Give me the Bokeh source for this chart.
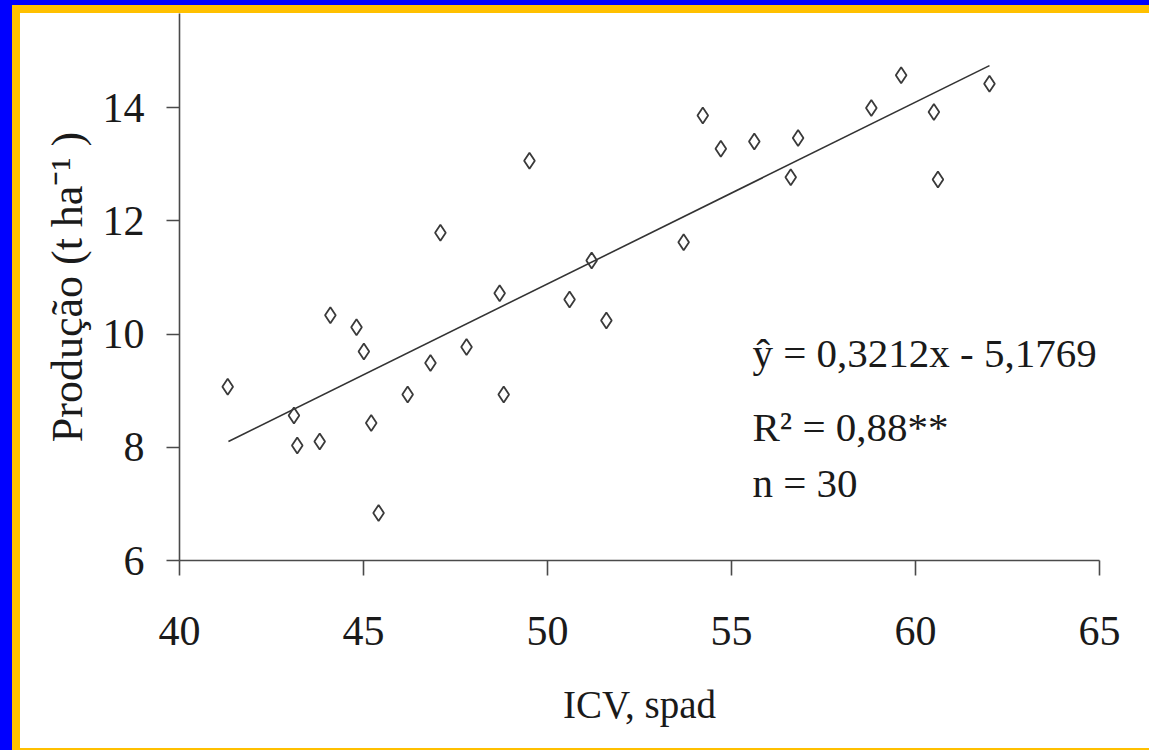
from bokeh.plotting import figure
from bokeh.models import FixedTicker, Label
from bokeh.embed import file_html
from bokeh.resources import INLINE

# ---- data ----
icv = [41.31, 43.11, 43.20, 43.81, 44.10, 44.81, 45.01, 45.21, 45.41, 46.20,
       46.82, 47.09, 47.80, 48.70, 48.81, 49.51, 50.60, 51.20, 51.60, 53.70,
       54.22, 54.71, 55.62, 56.61, 56.81, 58.80, 59.61, 60.50, 60.61, 62.01]
producao = [9.07, 8.56, 8.03, 8.10, 10.33, 10.12, 9.69, 8.43, 6.84, 8.93,
            9.49, 11.79, 9.77, 10.72, 8.93, 13.06, 10.61, 11.30, 10.24, 11.62,
            13.86, 13.27, 13.40, 12.77, 13.46, 13.99, 14.57, 13.92, 12.73, 14.42]
fit_x = [41.33, 62.01]
fit_y = [8.10, 14.74]
x_ticks = [40, 45, 50, 55, 60, 65]
y_ticks = [6, 8, 10, 12, 14]
x_title = "ICV, spad"
y_title = "Produção (t ha\u207b\u00b9 )"
eq_lines = ["\u0177 = 0,3212x - 5,1769", "R\u00b2 = 0,88**", "n = 30"]

FONT = "Liberation Serif"
TXT = "#1a1a1a"
LN = "#4a4a4a"

W, H = 1149, 750
FL, FR, FT, FB = 179, 1099, 13, 560
X0, X1 = 40, 65
Y0 = 6
PY = 56.625
Y1 = Y0 + (FB - FT) / PY


def sx(ix):
    return ix - FL


def sy(iy):
    return FB - iy


p = figure(width=W, height=H, x_range=(X0, X1), y_range=(Y0, Y1),
           output_backend="svg", toolbar_location=None,
           min_border_left=FL, min_border_right=W - FR,
           min_border_top=FT, min_border_bottom=H - FB)
p.outline_line_color = None
p.background_fill_color = "white"
p.border_fill_color = None
p.styles = {
    "background": (
        "linear-gradient(#FFFFFF, #FFFFFF) right 0px top 13px / 40px calc(100% - 16px) no-repeat, "
        "linear-gradient(#0000FF, #0000FF) 0px 0px / 12px 100% no-repeat, "
        "linear-gradient(#0000FF, #0000FF) 0px 0px / 100% 5px no-repeat, "
        "linear-gradient(#FFC000, #FFC000) 12px 5px / 8px 100% no-repeat, "
        "linear-gradient(#FFC000, #FFC000) 12px 5px / 100% 8px no-repeat, "
        "linear-gradient(#FFC000, #FFC000) 0px 100% / 100% 2.5px no-repeat, "
        "#FFFFFF"
    )
}
p.xgrid.visible = False
p.ygrid.visible = False

for ax in (p.xaxis, p.yaxis):
    ax.axis_line_color = LN
    ax.axis_line_width = 1.6
    ax.major_tick_line_color = LN
    ax.major_tick_line_width = 1.6
    ax.major_tick_in = 0
    ax.minor_tick_line_color = None
    ax.major_label_text_font = FONT
    ax.major_label_text_color = TXT
    ax.major_label_text_font_size = "42px"
    ax.axis_label_text_font = FONT
    ax.axis_label_text_font_style = "normal"
    ax.axis_label_text_color = TXT

p.xaxis.ticker = FixedTicker(ticks=x_ticks)
p.yaxis.ticker = FixedTicker(ticks=y_ticks)
p.xaxis.major_tick_out = 15
p.yaxis.major_tick_out = 13
p.xaxis.major_label_standoff = 41
p.yaxis.major_label_standoff = 22

p.xaxis.axis_label = x_title
p.xaxis.axis_label_text_font_size = "39px"
p.xaxis.axis_label_standoff = 35

p.yaxis.axis_label = y_title
p.yaxis.axis_label_text_font_size = "44px"
p.yaxis.axis_label_standoff = 8

# regression line and points
p.line(fit_x, fit_y, line_color="#333333", line_width=1.6)
p.scatter(icv, producao, marker="diamond", size=16, fill_color=None,
          line_color="#3a3a3a", line_width=1.8)

# equation text
eq_base = [352, 426, 482]
for t, b in zip(eq_lines, eq_base):
    p.add_layout(Label(x=sx(752), y=sy(b), x_units="screen", y_units="screen",
                       text=t, text_font=FONT,
                       text_font_size="41px", text_color=TXT,
                       text_baseline="alphabetic", text_align="left"))

open("out.html", "w").write(file_html(p, INLINE))
